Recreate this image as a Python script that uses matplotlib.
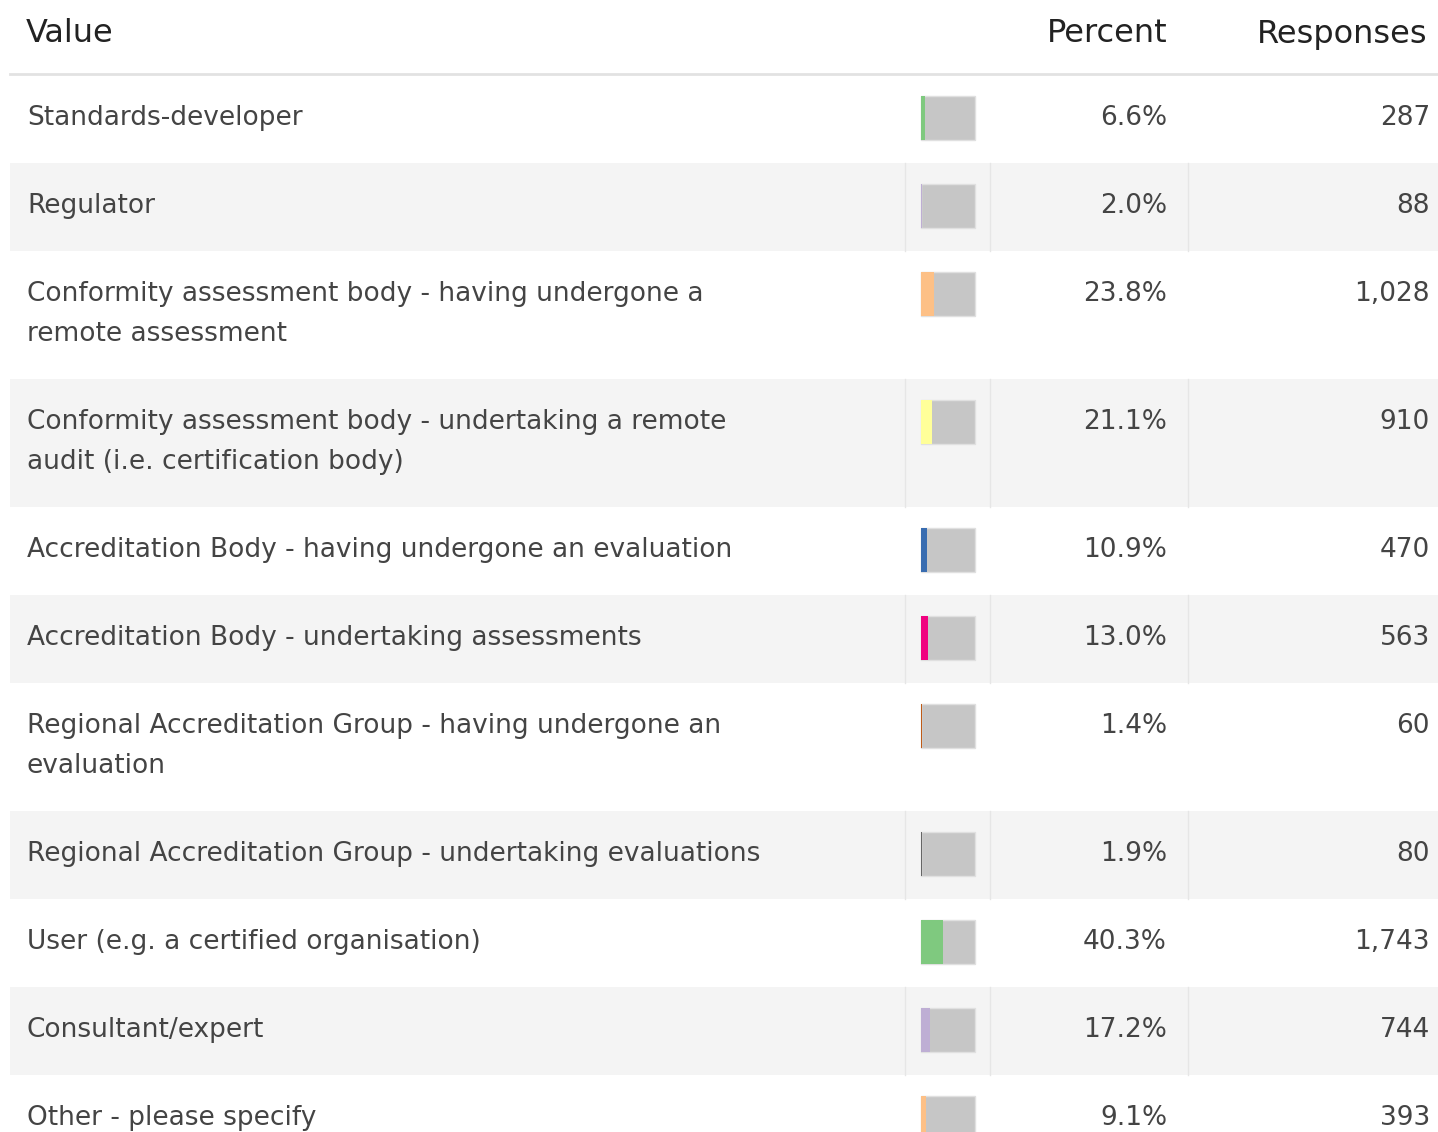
import matplotlib.pyplot as plt
from matplotlib.patches import Rectangle

labels = [
    "Standards-developer",
    "Regulator",
    "Conformity assessment body - having undergone a\nremote assessment",
    "Conformity assessment body - undertaking a remote\naudit (i.e. certification body)",
    "Accreditation Body - having undergone an evaluation",
    "Accreditation Body - undertaking assessments",
    "Regional Accreditation Group - having undergone an\nevaluation",
    "Regional Accreditation Group - undertaking evaluations",
    "User (e.g. a certified organisation)",
    "Consultant/expert",
    "Other - please specify",
]
percents = [6.6, 2.0, 23.8, 21.1, 10.9, 13.0, 1.4, 1.9, 40.3, 17.2, 9.1]
responses = [287, 88, 1028, 910, 470, 563, 60, 80, 1743, 744, 393]
colors = ["#7fc97f", "#beaed4", "#fdc086", "#ffff99", "#386cb0", "#f0027f",
          "#bf5b17", "#666666", "#7fc97f", "#beaed4", "#fdc086"]
headers = ["Value", "Percent", "Responses"]

W, H = 1438, 1132
fig = plt.figure(figsize=(W / 100, H / 100), dpi=100)
ax = fig.add_axes([0, 0, 1, 1])
ax.set_xlim(0, W)
ax.set_ylim(H, 0)
ax.axis("off")

font = "DejaVu Sans"
txt = "#444444"
fs = 19

# header
ax.text(26, 34, headers[0], fontsize=23, color="#222222", va="center", family=font)
ax.text(1167, 34, headers[1], fontsize=23, color="#222222", va="center", ha="right", family=font)
ax.text(1428, 34, headers[2], fontsize=23, color="#222222", va="center", ha="right", family=font)
ax.plot([10, W], [74, 74], color="#e2e2e2", lw=2)

# rows
bar_left, bar_w, bar_h = 921, 54, 44
top = 75
centers = []
for i, lab in enumerate(labels):
    n = lab.count("\n") + 1
    h = 48 + 40 * n
    if i % 2 == 1:
        ax.add_patch(Rectangle((10, top), W - 10, h, color="#f4f4f4", lw=0, zorder=0))
        for x in (905, 990, 1188):
            ax.plot([x, x], [top, top + h], color="#e6e6e6", lw=1, zorder=1)
    yc = top + 43
    centers.append(yc)
    for k, line in enumerate(lab.split("\n")):
        ax.text(27, yc + 40 * k, line, fontsize=fs, color=txt, va="center", family=font)
    ax.text(1167, yc, f"{percents[i]:.1f}%", fontsize=fs, color=txt, va="center", ha="right", family=font)
    ax.text(1430, yc, f"{responses[i]:,}", fontsize=fs, color=txt, va="center", ha="right", family=font)
    top += h

ax.barh(centers, bar_w, left=bar_left, height=bar_h, color="#c6c6c6",
        edgecolor="#e0e0e0", lw=1, zorder=2)
ax.barh(centers, [p / 100 * bar_w for p in percents], left=bar_left, height=bar_h,
        color=colors, lw=0, zorder=3)

fig.savefig("out.png", dpi=100)
